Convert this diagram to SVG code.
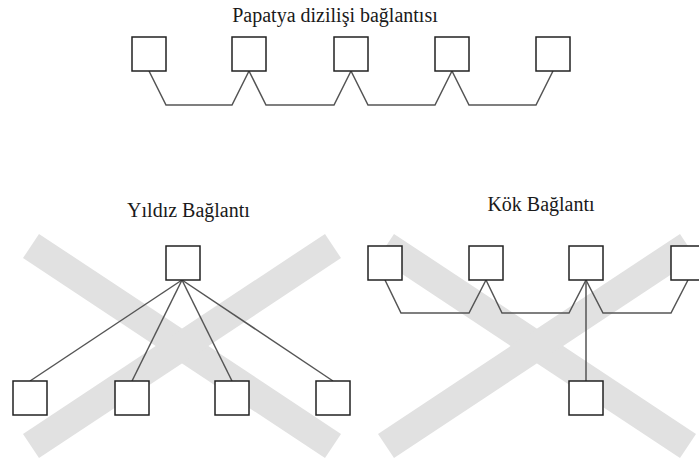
<svg xmlns="http://www.w3.org/2000/svg" width="699" height="459" viewBox="0 0 699 459">
  <style>
    .title { font-size: 20px; fill: #1a1a1a; text-anchor: middle; }
    .box { fill: #ffffff; stroke: #222222; stroke-width: 1.5; }
    .wire { fill: none; stroke: #555555; stroke-width: 1.5; stroke-linejoin: miter; }
    .cross { stroke: #e1e1e1; stroke-width: 29; stroke-linecap: butt; }
  </style>
  <rect width="699" height="459" fill="#ffffff"/>

  <!-- crossed-out markers behind the two lower layouts -->
  <g id="cross-marks">
    <line class="cross" x1="31" y1="246" x2="333" y2="446"/>
    <line class="cross" x1="333" y1="246" x2="31" y2="446"/>
    <line class="cross" x1="386" y1="246" x2="688" y2="446"/>
    <line class="cross" x1="688" y1="246" x2="386" y2="446"/>
  </g>

  <!-- titles -->
  <g font-family="Liberation Serif, DejaVu Serif, serif">
    <text class="title" x="335" y="22">Papatya dizilişi bağlantısı</text>
    <text class="title" x="188.5" y="217">Yıldız Bağlantı</text>
    <text class="title" x="541" y="211">Kök Bağlantı</text>
  </g>

  <!-- connectors -->
  <g id="connectors">
    <!-- daisy chain -->
    <path class="wire" d="M149 71 L166 105 L232 105 L249 71"/>
    <path class="wire" d="M249 71 L266 105 L334 105 L351 71"/>
    <path class="wire" d="M351 71 L368 105 L435 105 L452 71"/>
    <path class="wire" d="M452 71 L469 105 L536 105 L553 71"/>
    <!-- star -->
    <path class="wire" d="M182 280 L30 381"/>
    <path class="wire" d="M182 280 L132 381"/>
    <path class="wire" d="M182 280 L232 381"/>
    <path class="wire" d="M182 280 L333 381"/>
    <!-- root -->
    <path class="wire" d="M385 280 L401 313 L469 313 L486 280"/>
    <path class="wire" d="M486 280 L502 313 L569 313 L586 280"/>
    <path class="wire" d="M586 280 L603 313 L671 313 L688 280"/>
    <path class="wire" d="M586 280 L586 381"/>
  </g>

  <!-- daisy chain nodes -->
  <g id="daisy-1"><rect class="box" x="132" y="37" width="34" height="34"/></g>
  <g id="daisy-2"><rect class="box" x="232" y="37" width="34" height="34"/></g>
  <g id="daisy-3"><rect class="box" x="334" y="37" width="34" height="34"/></g>
  <g id="daisy-4"><rect class="box" x="435" y="37" width="34" height="34"/></g>
  <g id="daisy-5"><rect class="box" x="536" y="37" width="34" height="34"/></g>

  <!-- star nodes -->
  <g id="star-hub"><rect class="box" x="166" y="246" width="34" height="34"/></g>
  <g id="star-1"><rect class="box" x="13" y="381" width="34" height="34"/></g>
  <g id="star-2"><rect class="box" x="115" y="381" width="34" height="34"/></g>
  <g id="star-3"><rect class="box" x="215" y="381" width="34" height="34"/></g>
  <g id="star-4"><rect class="box" x="316" y="381" width="34" height="34"/></g>

  <!-- root nodes -->
  <g id="root-1"><rect class="box" x="368" y="246" width="34" height="34"/></g>
  <g id="root-2"><rect class="box" x="469" y="246" width="34" height="34"/></g>
  <g id="root-3"><rect class="box" x="569" y="246" width="34" height="34"/></g>
  <g id="root-4"><rect class="box" x="671" y="246" width="34" height="34"/></g>
  <g id="root-5"><rect class="box" x="569" y="381" width="34" height="34"/></g>
</svg>
